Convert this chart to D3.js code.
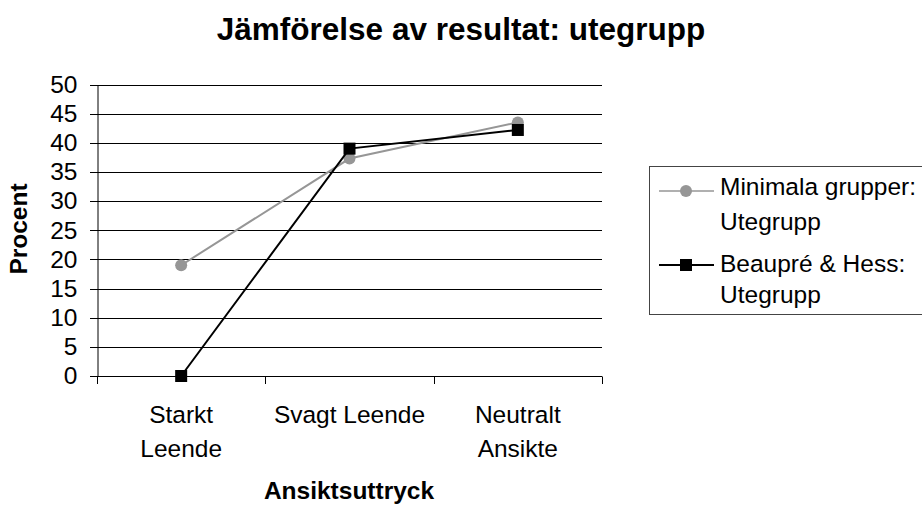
<!DOCTYPE html>
<html>
<head>
<meta charset="utf-8">
<script src="https://cdn.jsdelivr.net/npm/d3@7"></script>
<style>
    body { margin: 0; background: #fff; }
    svg { font-family: "Liberation Sans", Arial, sans-serif; }
</style>
</head>
<body>
<svg width="922" height="506"></svg>
<script>
var categories = [["Starkt", "Leende"], ["Svagt Leende"], ["Neutralt", "Ansikte"]];
var minimala = [19, 37.3, 43.5];
var beaupre = [0, 39, 42.2];
var yTicks = [0, 5, 10, 15, 20, 25, 30, 35, 40, 45, 50];
var seriesNames = [["Minimala grupper:", "Utegrupp"], ["Beaupré & Hess:", "Utegrupp"]];

var svg = d3.select("svg");
var plotLeft = 97, plotRight = 602, plotTop = 84.5, plotBottom = 376;
var fontSize = 24.5;

var x = d3.scaleBand()
    .domain(d3.range(categories.length))
    .range([plotLeft, plotRight]);
var y = d3.scaleLinear()
    .domain([0, 50])
    .range([plotBottom, plotTop]);

// GRID
svg.append("g")
    .selectAll("line")
    .data(yTicks)
    .enter()
    .append("line")
    .attr("x1", plotLeft - 7)
    .attr("x2", plotRight)
    .attr("y1", function(d) { return Math.round(y(d)) + 0.5; })
    .attr("y2", function(d) { return Math.round(y(d)) + 0.5; })
    .attr("stroke", "#000")
    .attr("stroke-width", 1);

// Y AXIS
var yAxis = d3.axisLeft(y).tickValues(yTicks).tickSize(0).tickPadding(20);
var gy = svg.append("g")
    .attr("transform", "translate(" + (plotLeft + 0.5) + ",0)")
    .call(yAxis);
gy.select(".domain").attr("stroke", "#000");
gy.selectAll("text")
    .attr("font-size", fontSize)
    .attr("fill", "#000")
    .attr("font-family", "Liberation Sans, Arial, sans-serif");

// X AXIS
var xTickPos = d3.range(categories.length + 1).map(function(i) {
    return i < categories.length ? x(i) : x(categories.length - 1) + x.bandwidth();
});
svg.append("g")
    .selectAll("line")
    .data(xTickPos)
    .enter()
    .append("line")
    .attr("x1", function(d) { return Math.round(d) + 0.5; })
    .attr("x2", function(d) { return Math.round(d) + 0.5; })
    .attr("y1", Math.round(plotBottom) + 0.5)
    .attr("y2", Math.round(plotBottom) + 8)
    .attr("stroke", "#000");

svg.append("g")
    .selectAll("text")
    .data(categories)
    .enter()
    .append("text")
    .attr("text-anchor", "middle")
    .attr("font-size", fontSize)
    .attr("x", function(d, i) { return x(i) + x.bandwidth() / 2; })
    .attr("y", 423)
    .each(function(d) {
        var t = d3.select(this);
        d.forEach(function(line, k) {
            t.append("tspan")
                .attr("x", t.attr("x"))
                .attr("dy", k === 0 ? 0 : 34)
                .text(line);
        });
    });

// TITLES
svg.append("text")
    .attr("x", 461)
    .attr("y", 40)
    .attr("text-anchor", "middle")
    .attr("font-size", 31.5)
    .attr("font-weight", "bold")
    .text("Jämförelse av resultat: utegrupp");

svg.append("text")
    .attr("x", 349)
    .attr("y", 499)
    .attr("text-anchor", "middle")
    .attr("font-size", fontSize)
    .attr("font-weight", "bold")
    .text("Ansiktsuttryck");

svg.append("text")
    .attr("transform", "translate(27,229) rotate(-90)")
    .attr("text-anchor", "middle")
    .attr("font-size", fontSize)
    .attr("font-weight", "bold")
    .text("Procent");

// LINES
var line = d3.line()
    .x(function(d, i) { return x(i) + x.bandwidth() / 2; })
    .y(function(d) { return y(d); });

svg.append("path")
    .attr("d", line(minimala))
    .attr("fill", "none")
    .attr("stroke", "#969696")
    .attr("stroke-width", 2);

svg.selectAll(".dot")
    .data(minimala)
    .enter()
    .append("circle")
    .attr("class", "dot")
    .attr("cx", function(d, i) { return x(i) + x.bandwidth() / 2; })
    .attr("cy", function(d) { return y(d); })
    .attr("r", 6)
    .attr("fill", "#969696");

svg.append("path")
    .attr("d", line(beaupre))
    .attr("fill", "none")
    .attr("stroke", "#000")
    .attr("stroke-width", 2);

svg.selectAll(".sq")
    .data(beaupre)
    .enter()
    .append("rect")
    .attr("class", "sq")
    .attr("x", function(d, i) { return x(i) + x.bandwidth() / 2 - 6; })
    .attr("y", function(d) { return y(d) - 6; })
    .attr("width", 12)
    .attr("height", 12)
    .attr("fill", "#000");

// LEGEND
var legend = svg.append("g");
legend.append("rect")
    .attr("x", 649.5)
    .attr("y", 166.5)
    .attr("width", 300)
    .attr("height", 148)
    .attr("fill", "#fff")
    .attr("stroke", "#444");

var legendRows = [
    {name: seriesNames[0], color: "#969696", shape: "circle", y: 191, base: [195, 230]},
    {name: seriesNames[1], color: "#000", shape: "square", y: 265, base: [272, 303]}
];
legendRows.forEach(function(r) {
    legend.append("line")
        .attr("x1", 659).attr("x2", 714)
        .attr("y1", r.y).attr("y2", r.y)
        .attr("stroke", r.color)
        .attr("stroke-width", r.shape === "circle" ? 1.5 : 2);
    if (r.shape === "circle") {
        legend.append("circle")
            .attr("cx", 686).attr("cy", r.y).attr("r", 6)
            .attr("fill", r.color);
    } else {
        legend.append("rect")
            .attr("x", 680).attr("y", r.y - 6)
            .attr("width", 12).attr("height", 12)
            .attr("fill", r.color);
    }
    r.name.forEach(function(t, k) {
        legend.append("text")
            .attr("x", 720)
            .attr("y", r.base[k])
            .attr("font-size", fontSize)
            .text(t);
    });
});
</script>
</body>
</html>
